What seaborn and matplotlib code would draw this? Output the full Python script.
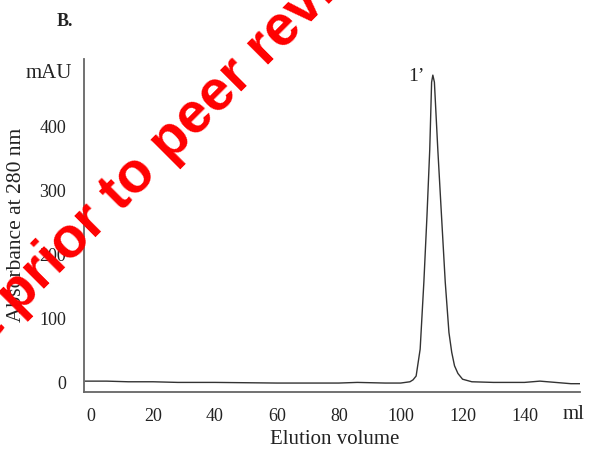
import numpy as np
import pandas as pd
import matplotlib
matplotlib.use("Agg")
import matplotlib.pyplot as plt
import seaborn as sns

# ---- data ----
Elution_ml = [-2, 5, 12, 16, 20, 28, 33, 40, 60, 80, 86, 95, 100, 103, 104, 105,
              106.3, 107.5, 108.5, 109.4, 110.0, 110.4, 110.9, 112.0, 113.2, 114.4,
              115.6, 116.5, 117.4, 118.5, 120, 123, 130, 140, 145, 150, 155, 158]
Absorbance_mAU = [0, 0, -1, -1, -1, -2, -2, -2, -3, -3, -2, -3, -3, -1, 2, 8,
                  50, 155, 258, 362, 467, 478, 467, 362, 258, 155,
                  76, 45, 24, 12, 3, -1, -2, -2, 0, -2, -4, -4]
X_ticks = [0, 20, 40, 60, 80, 100, 120, 140]
Y_ticks = [0, 100, 200, 300, 400]
Peak_label = "1’"
Peak_pos = (110.4, 478)

df = pd.DataFrame({"vol": Elution_ml, "abs": Absorbance_mAU})

sns.set_style("white")
plt.rcParams['font.family'] = ['Liberation Serif', 'DejaVu Serif']

fig = plt.figure(figsize=(5.92, 4.52), dpi=100)
ax = fig.add_axes([0.142, 0.1305, 0.838, 0.7365])

sns.lineplot(data=df, x="vol", y="abs", ax=ax, color="#333333", linewidth=1.0,
             estimator=None)

ax.set_xlim(-2.3, 158)
ax.set_ylim(-17, 503)
ax.set_xticks(X_ticks)
ax.set_yticks(Y_ticks)
ax.tick_params(axis='both', labelsize=13, colors='#222222', length=3, width=1,
               pad=8, direction='out')
ax.tick_params(axis='x', color='#777777')
ax.tick_params(axis='y', color='#777777', pad=10)
for s in ['top', 'right']:
    ax.spines[s].set_visible(False)
for s in ['left', 'bottom']:
    ax.spines[s].set_color('#666666')
    ax.spines[s].set_linewidth(1.3)

ax.set_xlabel("")
ax.set_ylabel("")
fig.text(335/592, 1 - 440/452, "Elution volume", ha='center', va='center',
         fontsize=15, color='#222222')
fig.text(17/592, 1 - 225/452, "Absorbance at 280 nm", ha='center', va='center',
         rotation=90, fontsize=15.5, color='#222222')
fig.text(72/592, 1 - 74/452, "mAU", ha='right', va='center', fontsize=15,
         color='#222222')
fig.text(563/592, 1 - 415/452, "ml", ha='left', va='center', fontsize=15,
         color='#222222')
fig.text(57/592, 1 - 22/452, "B.", ha='left', va='center', fontsize=13,
         fontweight='bold', color='#222222')

ax.annotate(Peak_label, xy=Peak_pos, xytext=(-6, 0), textcoords='offset points',
            ha='right', va='center', fontsize=14, color='#222222')

# watermark
fig.text(111/592, 1 - 201/452, "Preprint prior to peer review", ha='center',
         va='center', rotation=45, rotation_mode='anchor', fontsize=41,
         fontweight='bold', color='red', family=['Liberation Sans', 'DejaVu Sans'])

fig.savefig("out.png", dpi=100)
